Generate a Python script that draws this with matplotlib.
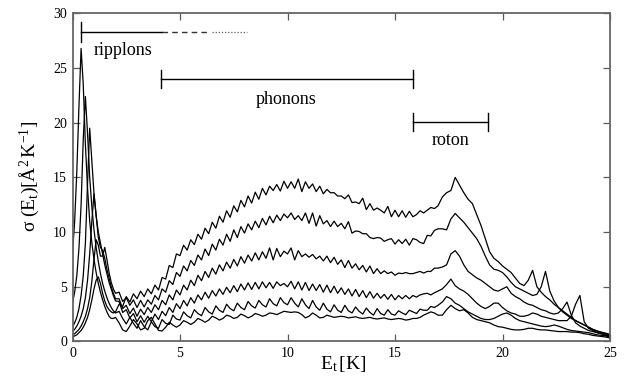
import numpy as np
import matplotlib
matplotlib.use("Agg")
import matplotlib.pyplot as plt

plt.rcParams['font.family'] = ['Liberation Serif', 'DejaVu Serif']
plt.rcParams['mathtext.fontset'] = 'custom'
plt.rcParams['mathtext.rm'] = 'Liberation Serif'
plt.rcParams['mathtext.it'] = 'Liberation Serif:italic'
plt.rcParams['mathtext.bf'] = 'Liberation Serif:bold'

# sampling grid of transverse energy E_t [K]
energy = np.concatenate([np.arange(21) * 0.1,
                         2 + np.arange(1, 91) / 6.0,
                         17 + 0.2 * np.arange(1, 41)])

# sigma(E_t) curves (lowest phonon level first)
sigma_1 = [8.0, 11.0, 15.5, 21.5, 26.8, 23.5, 18.0, 14.0, 11.0, 9.0, 7.5, 6.3, 5.3, 4.5, 3.8, 3.2, 2.7, 2.3, 2.1, 2.1, 2.2,
           1.7, 1.05, 0.9, 1.4, 2.0, 1.6, 1.05, 1.2, 1.9, 2.2, 1.6, 1.0,
           0.95, 1.3, 1.75, 1.5, 1.3, 1.5,
           1.9, 1.75, 1.55, 1.75, 2.1, 1.95,
           1.75, 1.95, 2.3, 2.15, 1.95, 2.1,
           2.4, 2.3, 2.1, 2.2, 2.5, 2.35,
           2.15, 2.3, 2.55, 2.45, 2.3, 2.4,
           2.6, 2.55, 2.45, 2.6, 2.75, 2.7,
           2.65, 2.7, 2.65, 2.45, 2.15, 2.3,
           2.6, 2.4, 2.15, 2.2, 2.4, 2.3,
           2.2, 2.25, 2.3, 2.25, 2.15, 2.2,
           2.25, 2.15, 2.1, 2.15, 2.2, 2.1,
           2.05, 2.1, 2.15, 2.05, 2.0, 2.05,
           2.1, 2.05, 1.95, 2.0, 2.1, 2.1,
           2.2, 2.4, 2.55, 2.7, 2.6, 2.4,
           2.4, 2.9, 3.3, 3.0, 2.8, 2.9, 2.6, 2.2, 2.0, 1.9, 1.8, 1.7, 1.5, 1.35, 1.3, 1.2, 1.1, 1.05, 1.05, 1.1,
           1.2, 1.2, 1.1, 1.05, 1.05, 1.0, 0.95, 0.9, 0.9, 0.9, 0.85, 0.85, 0.8, 0.7, 0.65, 0.55, 0.5, 0.45, 0.4, 0.3]

sigma_2 = [3.5, 4.5, 6.0, 8.5, 12.5, 18.5, 22.4, 19.0, 15.0, 12.3, 10.2, 8.6, 7.3, 6.2, 5.3, 4.6, 4.0, 3.5, 3.1, 2.8, 2.6,
           2.75, 2.1, 1.6, 2.2, 1.65, 1.2, 1.9, 1.35, 1.05, 1.8, 1.35, 1.2,
           2.0, 1.65, 1.55, 2.4, 2.05, 1.95,
           2.7, 2.35, 2.15, 2.9, 2.55, 2.35,
           3.1, 2.7, 2.5, 3.25, 2.85, 2.65,
           3.4, 3.0, 2.8, 3.5, 3.1, 2.9,
           3.65, 3.25, 3.05, 3.75, 3.35, 3.15,
           3.9, 3.45, 3.25, 4.0, 3.55, 3.35,
           4.0, 3.5, 3.15, 3.9, 3.35, 3.0,
           3.75, 3.15, 2.85, 3.5, 2.95, 2.7,
           3.35, 2.85, 2.65, 3.3, 2.8, 2.6,
           3.15, 2.75, 2.5, 3.05, 2.65, 2.4,
           3.0, 2.55, 2.4, 2.9, 2.5, 2.4,
           2.8, 2.6, 2.45, 2.85, 2.7, 2.55,
           2.95, 2.85, 2.85, 3.2, 3.1, 3.3,
           3.6, 4.1, 3.9, 3.5, 3.3, 3.0, 2.7, 2.5, 2.3, 2.1, 2.0, 2.0, 2.1, 2.3, 2.5, 2.6, 2.4, 2.1, 1.9, 1.8,
           1.7, 1.6, 1.5, 1.4, 1.35, 1.4, 1.5, 1.4, 1.25, 1.1, 1.0, 0.95, 0.9, 0.85, 0.8, 0.7, 0.6, 0.55, 0.5, 0.4]

sigma_3 = [1.3, 1.7, 2.2, 3.0, 4.2, 6.0, 9.0, 14.5, 19.5, 16.5, 13.5, 11.5, 10.0, 9.0, 8.0, 7.0, 6.2, 5.4, 4.8, 4.2, 3.7,
           3.65, 2.65, 2.9, 2.15, 2.55, 1.8, 2.35, 1.75, 2.3, 1.8, 2.5, 2.0,
           2.75, 2.35, 3.1, 2.65, 3.45, 3.0,
           3.75, 3.25, 4.0, 3.5, 4.25, 3.8,
           4.5, 3.95, 4.65, 4.15, 4.8, 4.3,
           4.95, 4.45, 5.1, 4.55, 5.25, 4.7,
           5.35, 4.75, 5.4, 4.8, 5.45, 4.9,
           5.4, 4.85, 5.45, 5.1, 5.3, 5.0,
           5.5, 4.8, 5.45, 4.7, 5.4, 4.65,
           5.25, 4.65, 5.2, 4.5, 5.15, 4.45,
           5.05, 4.4, 4.9, 4.3, 4.8, 4.15,
           4.75, 4.1, 4.65, 4.0, 4.55, 3.95,
           4.4, 3.95, 4.3, 3.85, 4.3, 3.8,
           4.2, 3.9, 4.2, 3.9, 4.2, 4.05,
           4.25, 4.35, 4.4, 4.25, 4.45, 4.6,
           4.8, 5.2, 5.7, 5.1, 4.8, 4.6, 4.3, 3.9, 3.5, 3.2, 3.0, 3.2, 3.5, 3.5, 3.1, 2.8, 2.6, 2.5, 2.3, 2.3,
           2.4, 2.6, 2.5, 2.3, 2.2, 2.1, 2.0, 1.9, 1.9, 1.9, 2.3, 3.4, 4.2, 1.8, 1.2, 1.0, 0.8, 0.7, 0.55, 0.4]

sigma_4 = [0.9, 1.1, 1.4, 1.8, 2.3, 3.0, 4.0, 5.6, 8.0, 11.0, 13.5, 11.5, 9.5, 8.6, 8.3, 7.6, 6.6, 5.8, 5.0, 4.4, 3.9,
           3.9, 3.0, 3.3, 2.55, 3.05, 2.3, 2.95, 2.45, 3.1, 2.65, 3.35, 2.9,
           3.75, 3.35, 4.25, 3.8, 4.7, 4.25,
           5.15, 4.7, 5.6, 5.1, 6.05, 5.55,
           6.4, 5.85, 6.7, 6.15, 7.0, 6.45,
           7.25, 6.7, 7.5, 6.9, 7.75, 7.15,
           7.9, 7.35, 8.1, 7.45, 8.2, 7.6,
           8.55, 7.45, 8.5, 7.75, 8.25, 8.0,
           8.55, 7.45, 8.3, 7.75, 8.0, 7.7,
           7.95, 7.55, 7.8, 7.35, 7.8, 7.2,
           7.7, 7.05, 7.45, 6.75, 7.4, 6.7,
           7.1, 6.55, 6.95, 6.35, 6.9, 6.2,
           6.65, 6.2, 6.45, 6.2, 6.35, 6.05,
           6.25, 6.2, 6.3, 6.2, 6.2, 6.3,
           6.4, 6.25, 6.4, 6.4, 6.7, 6.7,
           6.8, 7.0, 8.0, 8.3, 7.8, 7.0, 6.4, 6.1, 5.8, 5.6, 5.3, 5.0, 4.7, 4.6, 4.8, 5.0, 4.4, 4.1, 3.9, 3.6,
           3.4, 3.3, 3.1, 2.9, 2.8, 2.6, 2.5, 2.6, 3.0, 3.6, 2.4, 1.7, 1.4, 1.2, 1.0, 0.9, 0.8, 0.7, 0.6, 0.5]

sigma_5 = [0.6, 0.7, 0.9, 1.1, 1.4, 1.8, 2.3, 3.0, 4.0, 5.5, 7.5, 9.3, 8.8, 7.8, 7.8, 8.6, 7.5, 6.3, 5.4, 4.8, 4.4,
           4.5, 3.65, 4.0, 3.3, 3.8, 3.1, 3.75, 3.15, 3.8, 3.4, 4.2, 3.8,
           4.8, 4.5, 5.55, 5.2, 6.3, 5.95,
           6.9, 6.45, 7.4, 6.95, 7.9, 7.45,
           8.45, 7.85, 8.9, 8.35, 9.35, 8.8,
           9.8, 9.15, 10.2, 9.5, 10.5, 9.9,
           10.75, 10.2, 11.0, 10.4, 11.25, 10.65,
           11.45, 10.85, 11.55, 11.05, 11.65, 11.3,
           11.75, 11.15, 11.5, 11.05, 11.75, 10.8,
           11.75, 10.55, 11.5, 10.75, 11.05, 10.5,
           11.0, 10.5, 10.8, 10.3, 10.95, 9.9,
           10.1, 10.05, 9.85, 9.85, 9.5, 9.4,
           9.5, 9.45, 9.15, 9.3, 9.4, 8.9,
           9.3, 8.95, 9.35, 8.8, 9.4, 9.3,
           9.05, 8.95, 9.7, 9.65, 10.15, 10.3,
           10.3, 10.2, 11.2, 11.7, 11.3, 10.9, 10.4, 9.9, 9.4, 8.7, 7.8, 7.0, 6.6, 6.5, 6.3, 5.9, 5.4, 5.0, 4.8, 4.6,
           4.4, 4.2, 4.3, 5.0, 6.4, 4.6, 3.7, 3.1, 2.8, 2.5, 2.2, 1.9, 1.7, 1.5, 1.3, 1.1, 0.95, 0.8, 0.7, 0.55]

sigma_6 = [0.4, 0.5, 0.6, 0.8, 1.0, 1.3, 1.7, 2.2, 2.9, 3.8, 4.8, 5.6, 5.9, 5.3, 4.4, 3.7, 3.2, 2.9, 2.7, 2.6, 2.7,
           3.4, 3.2, 4.1, 3.6, 4.35, 3.9, 4.6, 4.1, 4.8, 4.35, 5.15, 4.7,
           5.85, 5.7, 6.95, 6.75, 8.0, 7.85,
           8.8, 8.35, 9.3, 8.85, 9.8, 9.35,
           10.35, 9.85, 10.9, 10.35, 11.45, 10.9,
           11.95, 11.35, 12.4, 11.85, 12.9, 12.3,
           13.3, 12.65, 13.65, 13.0, 14.0, 13.4,
           14.2, 13.8, 14.35, 13.75, 14.65, 14.0,
           14.6, 14.0, 14.85, 13.7, 14.6, 14.0,
           14.4, 13.7, 14.2, 13.5, 13.9, 13.6,
           13.6, 13.3, 13.3, 13.05, 13.4, 12.7,
           12.75, 12.6, 13.1, 12.05, 12.6, 12.0,
           12.2, 12.0, 11.75, 12.35, 11.4, 12.0,
           11.4, 11.95, 11.35, 11.9, 11.4, 11.6,
           11.95, 11.75, 12.0, 12.25, 12.15, 12.4,
           13.2, 13.6, 13.8, 15.0, 14.3, 13.6, 13.0, 12.6, 11.6, 10.6, 9.4, 8.2, 7.6, 7.3, 6.9, 6.6, 6.3, 5.8, 5.3, 5.1,
           5.6, 6.5, 5.0, 4.5, 4.1, 3.8, 3.4, 3.1, 2.7, 2.4, 2.1, 1.9, 1.7, 1.5, 1.3, 1.1, 0.95, 0.85, 0.75, 0.65]

curves = [sigma_1, sigma_2, sigma_3, sigma_4, sigma_5, sigma_6]

x_ticks = [0, 5, 10, 15, 20, 25]
y_ticks = [0, 5, 10, 15, 20, 25, 30]

fig = plt.figure(figsize=(6.39, 3.79), dpi=100)
ax = fig.add_axes([72.5 / 639, 1 - 341.4 / 379, (610 - 72.5) / 639, (341.4 - 13.4) / 379])

for s in curves:
    ax.plot(energy, s, color='black', lw=0.9)

ax.set_xlim(0, 25)
ax.set_ylim(0, 30)
ax.set_xticks(x_ticks)
ax.set_yticks(y_ticks)
ax.tick_params(direction='in', top=True, right=True, length=5, width=0.9,
               color='0.35', labelsize=10, labelcolor='black', pad=4)
for sp in ax.spines.values():
    sp.set_color('0.4')
    sp.set_linewidth(1.3)

lk = dict(color='black', lw=1.0)
# ripplons bracket
ax.plot([0.38, 4.15], [28.3, 28.3], **lk)
ax.plot([0.38, 0.38], [27.4, 29.2], **lk)
ax.plot([4.15, 6.35], [28.3, 28.3], color='0.2', lw=1.0, ls=(0, (4, 3)))
ax.plot([6.5, 8.1], [28.3, 28.3], color='0.35', lw=0.9, ls=(0, (1, 1.5)))
ax.text(1.0, 26.2, 'ripplons', fontsize=13, ha='left', va='baseline')
# phonons bracket
ax.plot([4.12, 15.85], [23.98, 23.98], **lk)
ax.plot([4.12, 4.12], [23.15, 24.8], **lk)
ax.plot([15.85, 15.85], [23.15, 24.8], **lk)
ax.text(9.93, 21.7, 'phonons', fontsize=13, ha='center', va='baseline')
# roton bracket
ax.plot([15.85, 19.34], [20.04, 20.04], **lk)
ax.plot([15.85, 15.85], [19.2, 20.9], **lk)
ax.plot([19.34, 19.34], [19.2, 20.9], **lk)
ax.text(17.6, 17.97, 'roton', fontsize=13, ha='center', va='baseline')

fig.text(343 / 639, 1 - 369 / 379, r'$\mathrm{E}_{\mathrm{t}}\,[\mathrm{K}]$', fontsize=14,
         ha='center', va='baseline')
fig.text(29 / 639, 1 - 176 / 379, r'$\mathrm{σ}\ (\mathrm{E}_{\mathrm{t}})[\mathrm{Å}^{2}\,\mathrm{K}^{-1}]$',
         fontsize=14, rotation=90, ha='center', va='center')

fig.savefig('out.png', dpi=100)
